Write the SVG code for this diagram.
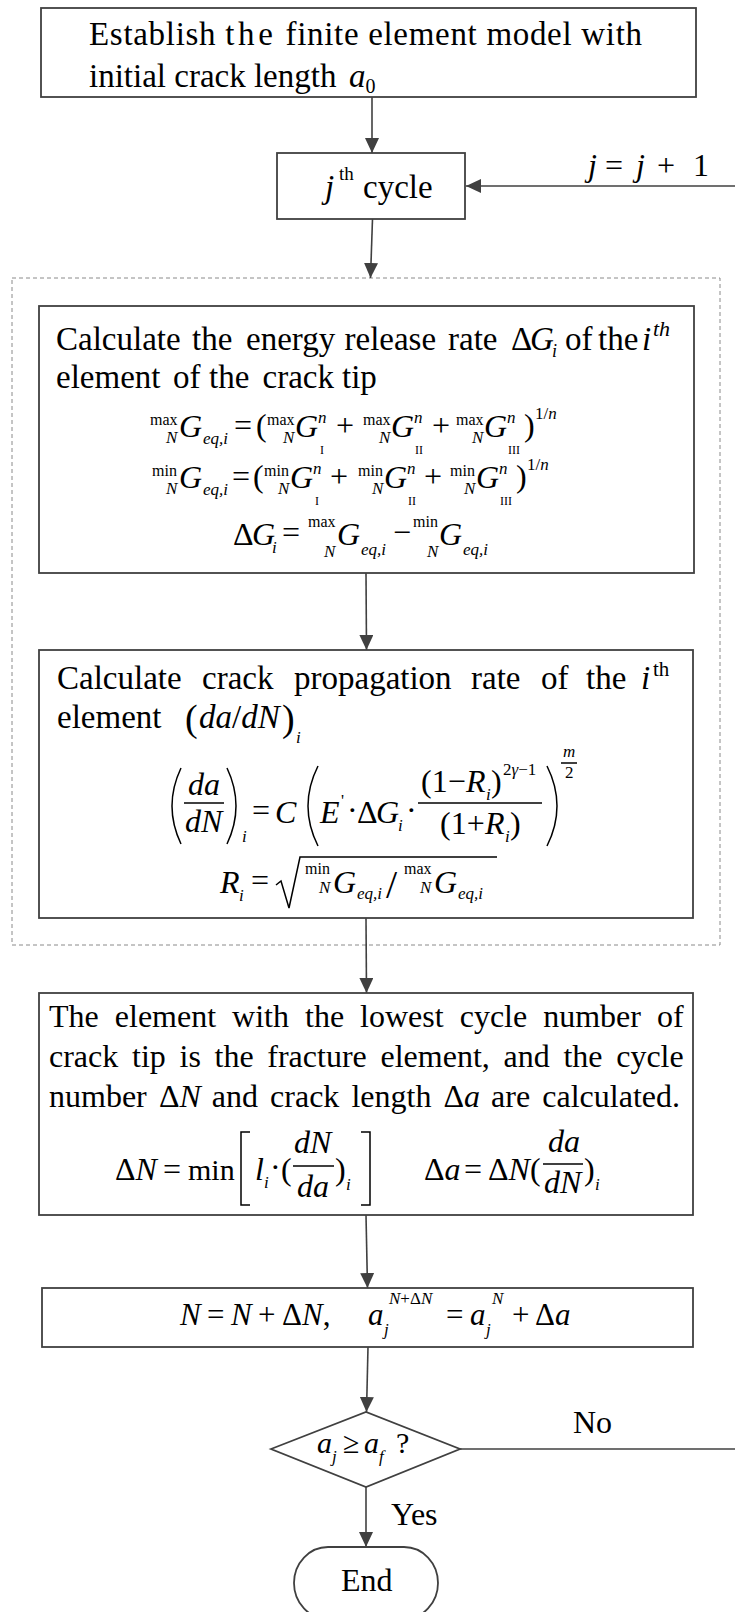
<svg xmlns="http://www.w3.org/2000/svg" width="735" height="1612" viewBox="0 0 735 1612">
<style>
text{font-family:"Liberation Serif","Times New Roman",serif;fill:#000}
.t{font-size:32px}
.b{font-size:33px}
.m{font-size:32px}
.i{font-style:italic}
.s{font-size:17px}
.l{font-size:16px}
.r{font-size:12px}
.box{fill:#fff;stroke:#404040;stroke-width:1.8}
.ln{fill:none;stroke:#404040;stroke-width:1.6}
.dl{fill:none;stroke:#000;stroke-width:1.5}
.frame{fill:none;stroke:#8a8a8a;stroke-width:1;stroke-dasharray:4 3}
</style>
<defs>
<marker id="ah" markerUnits="userSpaceOnUse" markerWidth="16" markerHeight="14" refX="15" refY="7" orient="auto">
<path d="M0,0 L15,7 L0,14 z" fill="#404040"/>
</marker>
</defs>
<rect width="735" height="1612" fill="#fff"/>

<g id="loop-frame">
<rect class="frame" x="12" y="278" width="708" height="667"/>
</g>

<g id="connectors">
<line class="ln" x1="372" y1="97" x2="372" y2="153" marker-end="url(#ah)"/>
<line class="ln" x1="740" y1="186" x2="466" y2="186" marker-end="url(#ah)"/>
<line class="ln" x1="372.5" y1="219" x2="370.5" y2="278" marker-end="url(#ah)"/>
<line class="ln" x1="366" y1="573" x2="366.5" y2="650" marker-end="url(#ah)"/>
<line class="ln" x1="366" y1="918" x2="366.5" y2="993" marker-end="url(#ah)"/>
<line class="ln" x1="366" y1="1215" x2="367.5" y2="1288" marker-end="url(#ah)"/>
<line class="ln" x1="368" y1="1347" x2="366.5" y2="1412" marker-end="url(#ah)"/>
<line class="ln" x1="460" y1="1449" x2="740" y2="1449"/>
<line class="ln" x1="366" y1="1487" x2="366" y2="1547" marker-end="url(#ah)"/>
<text class="m"><tspan class="i" x="588" y="176">j</tspan><tspan x="605" y="176">=</tspan><tspan class="i" x="636" y="176">j</tspan><tspan x="657" y="176">+</tspan><tspan x="693" y="176">1</tspan></text>
<text x="573" y="1433" style="font-size:32px">No</text>
<text x="391" y="1525" style="font-size:32px">Yes</text>
</g>

<g id="n1">
<rect class="box" x="41" y="8" width="655" height="89"/>
<text class="b" x="89" y="45" textLength="553" lengthAdjust="spacing">Establish <tspan letter-spacing="3">the</tspan> finite element model with</text>
<text class="b" y="87"><tspan x="89">initial crack length</tspan><tspan class="i" x="349">a</tspan><tspan y="93" style="font-size:20px">0</tspan></text>
</g>

<g id="n2">
<rect class="box" x="277" y="153" width="188" height="66"/>
<text class="b i" x="325" y="198">j</text>
<text x="339" y="180" style="font-size:19px">th</text>
<text class="b" x="363" y="198">cycle</text>
</g>

<g id="n3">
<rect class="box" x="39" y="306" width="655" height="267"/>
<text class="b" y="350"><tspan x="56">Calculate</tspan><tspan x="192">the</tspan><tspan x="246">energy</tspan><tspan x="344.5">release</tspan><tspan x="448">rate</tspan><tspan x="511">Δ</tspan><tspan x="530" class="i">G</tspan><tspan x="552" y="357" class="i" style="font-size:18px">i</tspan><tspan x="565" y="350">of</tspan><tspan x="598">the</tspan><tspan x="642" class="i">i</tspan><tspan x="653" y="336" class="i" style="font-size:22px">th</tspan></text>
<text class="b" y="388"><tspan x="56">element</tspan><tspan x="173">of</tspan><tspan x="209">the</tspan><tspan x="262.5">crack</tspan><tspan x="342">tip</tspan></text>
<text class="m">
<tspan class="l" x="150" y="425">max</tspan><tspan class="s i" x="166" y="443">N</tspan><tspan class="i" x="179" y="437">G</tspan><tspan class="s i" x="203" y="444">eq,i</tspan>
<tspan x="234" y="436">=</tspan><tspan x="256" y="436">(</tspan>
<tspan class="l" x="267" y="425">max</tspan><tspan class="s i" x="283" y="443">N</tspan><tspan class="i" x="295" y="437">G</tspan><tspan class="s i" x="318" y="423">n</tspan><tspan class="r" x="320" y="454">I</tspan>
<tspan x="336" y="436">+</tspan>
<tspan class="l" x="363" y="425">max</tspan><tspan class="s i" x="379" y="443">N</tspan><tspan class="i" x="391" y="437">G</tspan><tspan class="s i" x="414" y="423">n</tspan><tspan class="r" x="415" y="454">II</tspan>
<tspan x="432" y="436">+</tspan>
<tspan class="l" x="456" y="425">max</tspan><tspan class="s i" x="472" y="443">N</tspan><tspan class="i" x="484" y="437">G</tspan><tspan class="s i" x="507" y="423">n</tspan><tspan class="r" x="508" y="454">III</tspan>
<tspan x="524" y="436">)</tspan><tspan class="s" x="535" y="419">1/<tspan class="i">n</tspan></tspan>
</text>
<text class="m">
<tspan class="l" x="152" y="476">min</tspan><tspan class="s i" x="166" y="494">N</tspan><tspan class="i" x="179" y="488">G</tspan><tspan class="s i" x="203" y="495">eq,i</tspan>
<tspan x="232" y="487">=</tspan><tspan x="253" y="487">(</tspan>
<tspan class="l" x="264" y="476">min</tspan><tspan class="s i" x="278" y="494">N</tspan><tspan class="i" x="290" y="488">G</tspan><tspan class="s i" x="313" y="474">n</tspan><tspan class="r" x="315" y="505">I</tspan>
<tspan x="330" y="487">+</tspan>
<tspan class="l" x="358" y="476">min</tspan><tspan class="s i" x="372" y="494">N</tspan><tspan class="i" x="384" y="488">G</tspan><tspan class="s i" x="407" y="474">n</tspan><tspan class="r" x="408" y="505">II</tspan>
<tspan x="424" y="487">+</tspan>
<tspan class="l" x="450" y="476">min</tspan><tspan class="s i" x="464" y="494">N</tspan><tspan class="i" x="476" y="488">G</tspan><tspan class="s i" x="499" y="474">n</tspan><tspan class="r" x="500" y="505">III</tspan>
<tspan x="516" y="487">)</tspan><tspan class="s" x="527" y="470">1/<tspan class="i">n</tspan></tspan>
</text>
<text class="m">
<tspan x="233" y="545">Δ</tspan><tspan class="i" x="252" y="545">G</tspan><tspan class="s i" x="272" y="553">i</tspan>
<tspan x="282" y="543">=</tspan>
<tspan class="l" x="308" y="527">max</tspan><tspan class="s i" x="324" y="557">N</tspan><tspan class="i" x="337" y="545">G</tspan><tspan class="s i" x="361" y="555">eq,i</tspan>
<tspan x="393" y="543">−</tspan>
<tspan class="l" x="413" y="527">min</tspan><tspan class="s i" x="427" y="557">N</tspan><tspan class="i" x="439" y="545">G</tspan><tspan class="s i" x="463" y="555">eq,i</tspan>
</text>
</g>

<g id="n4">
<rect class="box" x="39" y="650" width="654" height="268"/>
<text class="b" y="689"><tspan x="57">Calculate</tspan><tspan x="202">crack</tspan><tspan x="294">propagation</tspan><tspan x="471">rate</tspan><tspan x="541">of</tspan><tspan x="586">the</tspan><tspan x="641" class="i">i</tspan><tspan x="653" y="676" style="font-size:21px">th</tspan></text>
<text class="b" y="728"><tspan x="57">element</tspan><tspan x="185" y="731" style="font-size:38px">(</tspan><tspan x="199" y="728" class="i">da</tspan><tspan>/</tspan><tspan class="i">dN</tspan><tspan x="282" y="731" style="font-size:38px">)</tspan><tspan x="296" y="743" class="i" style="font-size:17px">i</tspan></text>
<path class="dl" d="M181 768 Q163 806 181 844"/>
<path class="dl" d="M227 768 Q245 806 227 844"/>
<path class="dl" d="M318 766 Q298 806 318 846"/>
<path class="dl" d="M547 766 Q567 806 547 846"/>
<line class="dl" x1="184" y1="803" x2="224" y2="803"/>
<line class="dl" x1="418" y1="803" x2="542" y2="803"/>
<line class="dl" x1="561" y1="763" x2="577" y2="763"/>
<path class="dl" d="M276 885 L281 881 L289 908 L300 857 L497 857"/>
<text class="m">
<tspan class="i" x="188" y="795">da</tspan><tspan class="i" x="185" y="832">dN</tspan><tspan class="s i" x="242" y="842">i</tspan>
<tspan x="252" y="821">=</tspan><tspan class="i" x="275" y="823">C</tspan>
<tspan class="i" x="320" y="823">E</tspan><tspan class="s" x="341" y="806">'</tspan><tspan x="347" y="821">·</tspan>
<tspan x="357" y="823">Δ</tspan><tspan class="i" x="376" y="823">G</tspan><tspan class="s i" x="398" y="831">i</tspan><tspan x="406" y="821">·</tspan>
<tspan x="421" y="792">(1−</tspan><tspan class="i" x="466" y="792">R</tspan><tspan class="s i" x="486" y="800">i</tspan><tspan x="491" y="792">)</tspan><tspan class="s" x="503" y="775">2<tspan class="i">γ</tspan>−1</tspan>
<tspan x="440" y="834">(1+</tspan><tspan class="i" x="485" y="834">R</tspan><tspan class="s i" x="505" y="842">i</tspan><tspan x="510" y="834">)</tspan>
<tspan class="s i" x="563" y="757">m</tspan><tspan class="s" x="565" y="778">2</tspan>
</text>
<text class="m">
<tspan class="i" x="220" y="893">R</tspan><tspan class="s i" x="239" y="901">i</tspan><tspan x="251" y="891">=</tspan>
<tspan class="l" x="305" y="874">min</tspan><tspan class="s i" x="319" y="893">N</tspan><tspan class="i" x="333" y="893">G</tspan><tspan class="s i" x="357" y="899">eq,i</tspan>
<tspan x="386" y="898" style="font-size:40px">/</tspan>
<tspan class="l" x="404" y="874">max</tspan><tspan class="s i" x="420" y="893">N</tspan><tspan class="i" x="434" y="893">G</tspan><tspan class="s i" x="458" y="899">eq,i</tspan>
</text>
</g>

<g id="n5">
<rect class="box" x="39" y="993" width="654" height="222"/>
<text class="t" y="1027"><tspan x="49">The</tspan><tspan x="114.8">element</tspan><tspan x="232.1">with</tspan><tspan x="305">the</tspan><tspan x="360.1">lowest</tspan><tspan x="459.7">cycle</tspan><tspan x="543.2">number</tspan><tspan x="657">of</tspan></text>
<text class="t" y="1067"><tspan x="49">crack</tspan><tspan x="132">tip</tspan><tspan x="179.5">is</tspan><tspan x="214.5">the</tspan><tspan x="267.3">fracture</tspan><tspan x="380.5">element,</tspan><tspan x="503.5">and</tspan><tspan x="563.4">the</tspan><tspan x="616.2">cycle</tspan></text>
<text class="t" y="1107"><tspan x="49">number</tspan><tspan x="158.9">Δ<tspan class="i">N</tspan></tspan><tspan x="211.8">and</tspan><tspan x="270.1">crack</tspan><tspan x="351.4">length</tspan><tspan x="443.5">Δ<tspan class="i">a</tspan></tspan><tspan x="491.1">are</tspan><tspan x="542.3">calculated.</tspan></text>
<path class="dl" d="M250 1132 H241 V1205 H250"/>
<path class="dl" d="M361 1132 H370 V1205 H361"/>
<line class="dl" x1="293" y1="1166" x2="334" y2="1166"/>
<line class="dl" x1="543" y1="1164" x2="583" y2="1164"/>
<text class="m">
<tspan x="115" y="1180">Δ</tspan><tspan class="i">N</tspan><tspan x="163" y="1180">=</tspan><tspan x="188" y="1180" style="font-size:30px">min</tspan>
<tspan class="i" x="255" y="1180">l</tspan><tspan class="s i" x="264" y="1188">i</tspan><tspan x="270" y="1178">·</tspan><tspan x="281" y="1180">(</tspan>
<tspan class="i" x="294" y="1153">dN</tspan><tspan class="i" x="297" y="1197">da</tspan>
<tspan x="335" y="1180">)</tspan><tspan class="s i" x="346" y="1190">i</tspan>
<tspan x="424" y="1180">Δ</tspan><tspan class="i">a</tspan><tspan x="464" y="1180">=</tspan><tspan x="488" y="1180">Δ</tspan><tspan class="i">N</tspan><tspan x="530" y="1180">(</tspan>
<tspan class="i" x="548" y="1152">da</tspan><tspan class="i" x="544" y="1193">dN</tspan>
<tspan x="584" y="1180">)</tspan><tspan class="s i" x="595" y="1190">i</tspan>
</text>
</g>

<g id="n6">
<rect class="box" x="42" y="1288" width="651" height="59"/>
<text class="m" style="font-size:31px">
<tspan class="i" x="180" y="1325">N</tspan><tspan x="207" y="1325">=</tspan><tspan class="i" x="231" y="1325">N</tspan><tspan x="258" y="1325">+</tspan><tspan x="282" y="1325">Δ</tspan><tspan class="i">N</tspan><tspan>,</tspan>
<tspan class="i" x="368" y="1325">a</tspan><tspan class="s i" x="384" y="1335">j</tspan><tspan class="s" x="389" y="1304"><tspan class="i">N</tspan>+Δ<tspan class="i">N</tspan></tspan>
<tspan x="446" y="1325">=</tspan><tspan class="i" x="470" y="1325">a</tspan><tspan class="s i" x="486" y="1335">j</tspan><tspan class="s i" x="492" y="1304">N</tspan>
<tspan x="512" y="1325">+</tspan><tspan x="535" y="1325">Δ</tspan><tspan class="i">a</tspan>
</text>
</g>

<g id="n7">
<polygon class="box" points="271,1449 366,1412 460,1449 366,1487"/>
<text style="font-size:30px">
<tspan class="i" x="317" y="1453">a</tspan><tspan class="s i" x="332" y="1462">j</tspan><tspan x="343" y="1453">≥</tspan><tspan class="i" x="364" y="1453">a</tspan><tspan class="s i" x="379" y="1462">f</tspan><tspan x="396" y="1453">?</tspan>
</text>
</g>

<g id="n8">
<rect class="box" x="294" y="1547" width="144" height="72" rx="34" ry="36"/>
<text x="341" y="1591" style="font-size:32px">End</text>
</g>
</svg>
